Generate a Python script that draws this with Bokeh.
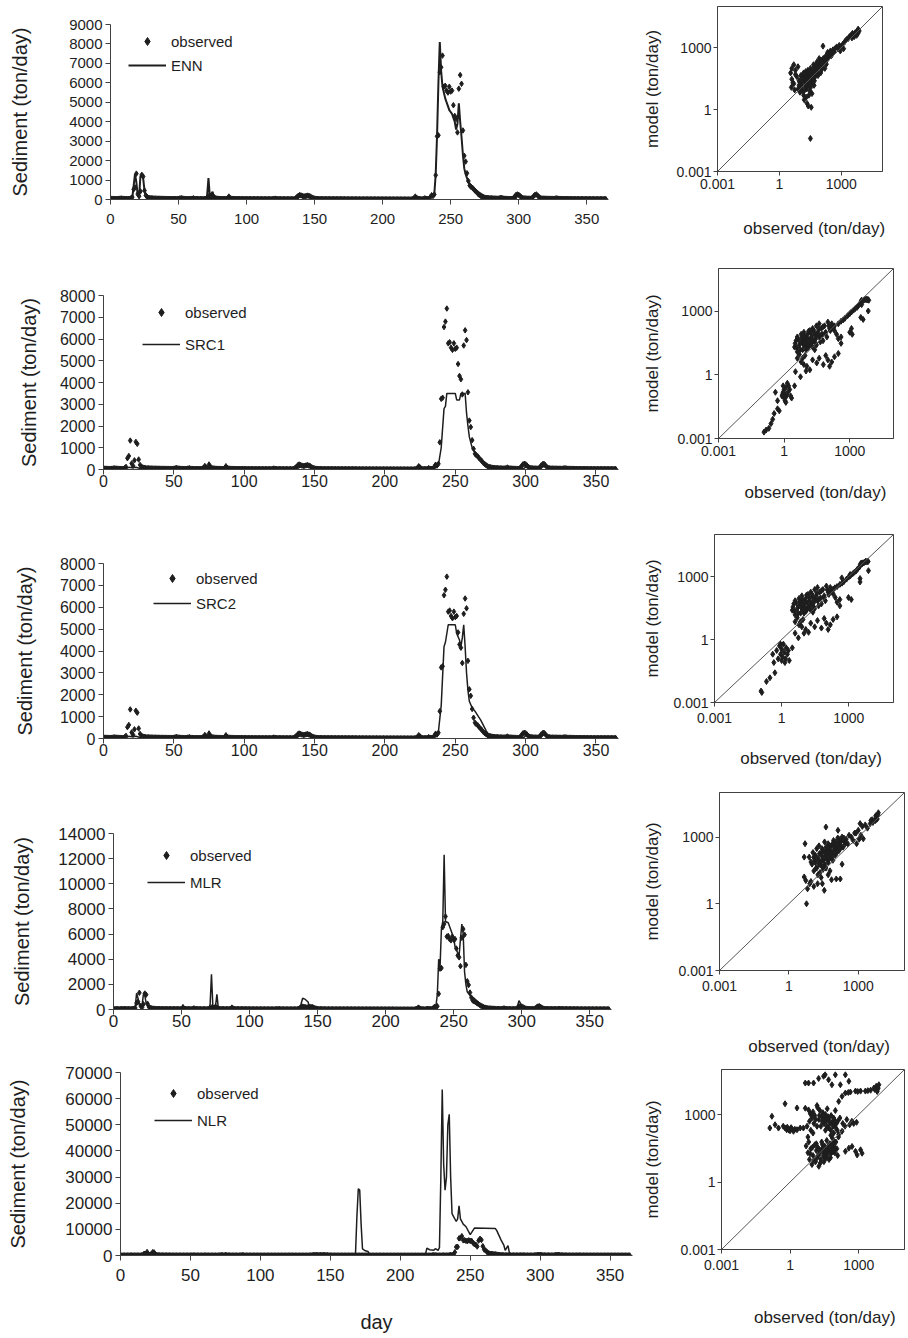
from bokeh.plotting import figure
from bokeh.layouts import row, column
from bokeh.models import (Range1d, FixedTicker, NumeralTickFormatter,
                          CustomJSTickFormatter, Legend, LegendItem, Slope)
from bokeh.embed import file_html
from bokeh.resources import INLINE

FONT = "Liberation Sans"
INK = "#1e1e1e"
AXIS = "#404040"

# ---- daily observed sediment load (ton/day), day 0..364 ----
days = list(range(365))
observed = [
    45, 42, 40, 38, 36, 35, 40, 48, 52, 45,
    40, 38, 36, 35, 34, 60, 120, 520, 620, 1330,
    280, 170, 420, 1270, 1180, 460, 210, 130, 90, 75,
    65, 60, 55, 52, 50, 48, 46, 45, 44, 42,
    41, 40, 40, 39, 38, 38, 37, 36, 36, 35,
    40, 55, 70, 50, 42, 38, 36, 35, 34, 33,
    45, 60, 40, 35, 33, 32, 31, 30, 30, 29,
    35, 80, 160, 90, 60, 230, 120, 70, 50, 45,
    40, 38, 37, 36, 35, 34, 60, 150, 70, 45,
    40, 38, 36, 35, 34, 33, 32, 31, 30, 30,
    29, 29, 28, 28, 27, 27, 26, 26, 25, 25,
    25, 24, 24, 24, 23, 23, 23, 22, 22, 22,
    30, 45, 35, 28, 25, 24, 23, 22, 22, 21,
    21, 21, 20, 20, 20, 25, 60, 120, 190, 230,
    210, 180, 160, 170, 190, 200, 180, 150, 100, 70,
    50, 40, 35, 32, 30, 28, 27, 26, 25, 25,
    24, 24, 23, 23, 22, 22, 22, 21, 21, 21,
    20, 20, 20, 19, 19, 19, 18, 18, 18, 18,
    17, 17, 17, 16, 16, 16, 15, 15, 15, 15,
    14, 14, 14, 13, 13, 13, 12, 12, 12, 12,
    11, 11, 11, 10, 10, 10, 10, 9, 9, 9,
    9, 8, 8, 8, 8, 7, 7, 7, 7, 6,
    6, 8, 20, 60, 150, 90, 40, 25, 20, 18,
    30, 60, 40, 30, 35, 120, 220, 180, 260, 1250,
    3250, 3300, 6550, 6800, 7400, 5800, 5850, 5600, 5500, 5800,
    5550, 5600, 4850, 4300, 4150, 3450, 5700, 6400, 5950, 3550,
    2250, 1950, 1350, 950, 720, 650, 600, 520, 450, 380,
    300, 240, 190, 150, 120, 100, 90, 80, 75, 70,
    65, 60, 55, 52, 50, 48, 60, 90, 60, 50,
    45, 42, 40, 38, 36, 35, 60, 150, 230, 260,
    240, 180, 120, 80, 60, 55, 50, 48, 46, 45,
    90, 180, 240, 260, 200, 120, 70, 55, 50, 48,
    46, 45, 44, 43, 42, 41, 40, 50, 60, 45,
    40, 39, 38, 37, 36, 35, 34, 33, 32, 31,
    30, 30, 29, 29, 28, 28, 27, 27, 26, 26,
    25, 25, 25, 24, 24, 24, 23, 23, 23, 22,
    22, 22, 21, 21, 21,
]

# ---- model lines (vertices) ----
enn_day = [0, 16, 17, 18, 19, 20, 21, 22, 23, 24, 25, 26, 28, 70, 71, 72, 73, 75, 76, 86,
           87, 88, 138, 139, 140, 142, 146, 149, 152, 222, 224, 226, 235, 236, 237, 238, 239, 240, 241, 242,
           243, 244, 245, 246, 247, 248, 249, 250, 251, 252, 253, 254, 255, 256, 257, 258, 259, 260, 261, 262,
           263, 264, 265, 266, 268, 270, 272, 274, 276, 280, 298, 299, 301, 303, 310, 312, 314, 316, 320, 364]
enn_val = [50, 60, 700, 1300, 900, 200, 150, 1200, 1250, 1100, 450, 150, 60, 50, 200, 1100, 150, 400, 100, 60,
           150, 60, 80, 200, 150, 180, 170, 80, 50, 50, 150, 60, 80, 200, 150, 300, 1300, 3300, 6000, 8100,
           6600, 5800, 5500, 5200, 5000, 4800, 4600, 4500, 4400, 4200, 4000, 3600, 3900, 4950, 4000, 3200, 2300, 1600, 1300, 1100,
           900, 800, 700, 600, 500, 400, 300, 200, 120, 70, 60, 250, 200, 80, 80, 200, 250, 100, 50, 40]

src1_day = [0, 16, 18, 20, 23, 26, 138, 141, 147, 150, 223, 225, 227, 236, 238, 240, 242, 243, 244, 250,
            251, 253, 254, 257, 258, 259, 260, 262, 264, 266, 268, 270, 272, 275, 280, 299, 301, 303, 311, 313,
            315, 364]
src1_val = [40, 40, 100, 80, 100, 50, 60, 150, 150, 60, 50, 100, 50, 80, 200, 1000, 2800, 2900, 3500, 3500,
            3200, 3200, 3500, 3500, 2600, 2000, 1500, 1000, 800, 650, 500, 350, 200, 80, 40, 60, 150, 60, 60, 150,
            60, 30]

src2_day = [0, 16, 18, 20, 23, 26, 138, 141, 147, 150, 223, 225, 227, 236, 238, 240, 242, 243, 245, 250,
            251, 253, 254, 255, 256, 257, 258, 259, 260, 262, 264, 266, 268, 270, 272, 274, 276, 299, 301, 303,
            311, 313, 315, 364]
src2_val = [40, 40, 100, 80, 100, 50, 60, 180, 180, 60, 50, 100, 50, 80, 300, 1500, 4200, 4400, 5200, 5200,
            4800, 4500, 4200, 4600, 5200, 4200, 3000, 2200, 1700, 1400, 1250, 1050, 850, 600, 350, 150, 60, 60, 180, 60,
            60, 180, 60, 30]

mlr_day = [0, 15, 16, 17, 18, 19, 20, 21, 22, 23, 24, 26, 50, 51, 52, 58, 59, 60, 70, 71,
           72, 73, 75, 76, 77, 86, 87, 88, 137, 138, 139, 141, 143, 144, 146, 148, 152, 224, 225, 226,
           236, 237, 238, 239, 240, 241, 242, 243, 244, 246, 248, 250, 251, 253, 254, 255, 256, 257, 258, 259,
           260, 262, 265, 268, 271, 274, 278, 296, 297, 298, 299, 300, 302, 310, 312, 314, 316, 364]
mlr_val = [50, 60, 300, 1300, 900, 400, 200, 350, 1200, 1100, 500, 100, 60, 400, 60, 60, 300, 60, 60, 400,
           2800, 300, 300, 1200, 150, 60, 300, 60, 80, 500, 900, 800, 600, 200, 350, 100, 50, 60, 200, 60,
           100, 300, 1200, 4000, 3400, 6400, 7000, 12300, 7000, 6900, 6300, 5700, 5000, 4500, 4300, 5600, 6800, 6000, 3000, 2000,
           1400, 1100, 900, 600, 300, 120, 60, 60, 300, 700, 500, 200, 80, 80, 250, 120, 60, 40]

nlr_day = [0, 15, 17, 19, 22, 24, 40, 140, 150, 167, 168, 169, 170, 171, 172, 173, 175, 177, 178, 218,
           219, 221, 224, 225, 227, 228, 229, 230, 231, 232, 233, 234, 235, 236, 237, 238, 240, 241, 242, 243,
           245, 247, 250, 253, 268, 269, 272, 274, 275, 277, 278, 280, 364]
nlr_val = [300, 300, 1500, 500, 1300, 400, 200, 300, 300, 300, 800, 15000, 25500, 25000, 12000, 2500, 1800, 1500, 300, 300,
           2800, 2200, 2000, 2600, 2000, 3000, 30000, 63500, 35000, 25000, 30000, 50000, 54000, 30000, 16000, 15000, 13000, 14000, 19000, 14000,
           12000, 11000, 8000, 10500, 10300, 9500, 6000, 4000, 2000, 3800, 1000, 300, 200]

# ---- scatter clouds: (observed, model) in ton/day ----
enn_scatter = [
    (3.5, 60), (4, 30), (4, 100), (5, 150), (5, 18), (6, 80), (7, 40), (3.8, 12), (5.5, 9), (8, 120),
    (8, 10), (10, 7), (10, 20), (12, 15), (12, 40), (14, 25), (15, 5), (15, 60), (16, 3), (18, 30),
    (18, 12), (20, 50), (20, 4), (22, 20), (22, 2), (24, 80), (25, 35), (25, 1.5), (28, 15), (28, 60),
    (30, 25), (30, 8), (32, 100), (35, 40), (35, 18), (38, 6), (40, 70), (40, 30), (45, 150), (45, 50),
    (50, 25), (50, 90), (55, 40), (60, 120), (60, 70), (65, 200), (70, 90), (75, 45), (80, 150), (85, 300),
    (90, 110), (100, 180), (100, 60), (110, 250), (120, 140), (130, 1200), (140, 220), (150, 300), (160, 100), (180, 400),
    (200, 250), (220, 600), (250, 350), (280, 500), (300, 700), (350, 450), (400, 800), (450, 650), (500, 900), (600, 1100),
    (700, 900), (800, 1300), (900, 700), (1000, 1200), (1200, 1500), (1300, 900), (1500, 2000), (1800, 2500), (2200, 2800), (2500, 3500),
    (3000, 4000), (3300, 3000), (3500, 5000), (4000, 4500), (4200, 3500), (4800, 5500), (5500, 5000), (5800, 6000), (6400, 4950), (6600, 8000),
    (7400, 6500), (5600, 4000), (4300, 3600), (32, 0.04), (9, 25), (11, 45), (13, 8), (17, 20), (19, 70), (21, 10),
    (26, 25), (27, 5), (33, 12), (42, 20), (48, 15), (6, 50), (4.5, 20), (35, 1.3),
    (9, 15), (11, 12), (13, 30), (14, 50), (16, 35), (17, 9), (19, 40), (21, 28), (23, 14), (24, 45),
    (26, 60), (29, 22), (31, 45), (34, 28), (36, 80), (39, 35), (43, 60), (47, 110), (52, 55), (58, 85),
    (62, 150), (68, 110), (72, 60), (78, 200), (95, 140), (105, 220), (115, 90), (125, 180), (135, 300), (170, 250),
    (190, 160), (240, 450), (320, 400), (380, 600),
]
src1_scatter = [
    (0.12, 0.002), (0.15, 0.0025), (0.2, 0.003), (0.25, 0.005), (0.3, 0.008), (0.35, 0.015), (0.5, 0.025), (0.6, 0.02), (0.4, 0.15), (0.5, 0.06),
    (0.8, 0.1), (0.9, 0.15), (1.0, 0.08), (1.0, 0.2), (1.1, 0.12), (1.2, 0.25), (1.3, 0.1), (1.5, 0.15), (1.6, 0.3), (1.8, 0.2),
    (2.0, 0.1), (2.2, 0.08), (1.2, 0.05), (0.9, 0.3), (1.4, 0.4), (1.1, 0.06), (0.85, 0.12), (3, 0.3), (3.3, 1.4), (5.6, 0.8),
    (11, 2.5), (15, 1.7), (31, 3.6), (62, 3), (8, 3), (10, 1.5), (20, 5), (40, 6), (80, 8), (100, 5),
    (150, 4), (200, 7), (300, 10), (120, 2.5), (3, 20), (3.5, 40), (4, 12), (4, 60), (5, 25), (5, 9),
    (6, 35), (6, 80), (7, 15), (7, 50), (8, 25), (8, 100), (9, 40), (10, 15), (10, 60), (11, 30),
    (12, 80), (13, 20), (14, 45), (15, 120), (16, 30), (18, 60), (20, 20), (20, 150), (22, 40), (25, 80),
    (25, 15), (28, 50), (30, 200), (30, 25), (35, 100), (40, 60), (40, 250), (45, 35), (50, 150), (55, 80),
    (60, 40), (70, 200), (80, 100), (90, 60), (100, 300), (120, 150), (150, 250), (200, 120), (250, 80), (300, 50),
    (400, 30), (400, 60), (150, 150), (200, 200), (300, 250), (400, 330), (500, 380), (600, 450), (800, 600), (1000, 750),
    (1200, 900), (1500, 1100), (1800, 1300), (2200, 1500), (2500, 1800), (3000, 2200), (3300, 2800), (4000, 3000), (4500, 3300), (5000, 3500),
    (5800, 3500), (6400, 3400), (6800, 3500), (7400, 3200), (5600, 3500), (3500, 2000), (1000, 100), (1200, 150), (3200, 500), (4100, 400),
    (7000, 1000), (4300, 3300), (3450, 3200), (1300, 80),
    (3.2, 30), (3.8, 18), (4.5, 45), (5.5, 15), (6.5, 55), (7.5, 30), (8.5, 70), (9.5, 22), (11, 50), (12, 18),
    (13, 110), (14, 25), (17, 90), (19, 35), (23, 120), (27, 30), (32, 75), (38, 140), (45, 70), (60, 180),
    (75, 90), (110, 200), (130, 120), (180, 160), (7, 6), (9, 8), (6, 4), (4, 6),
]
src2_scatter = [
    (0.12, 0.0035), (0.13, 0.003), (0.21, 0.01), (0.3, 0.015), (0.5, 0.026), (0.4, 0.2), (0.45, 0.08), (0.6, 0.3), (0.7, 0.12), (0.8, 0.5),
    (0.9, 0.2), (1.0, 0.1), (1.0, 0.35), (1.1, 0.15), (1.2, 0.6), (1.3, 0.25), (1.5, 0.12), (1.6, 0.4), (1.8, 0.2), (2.0, 0.3),
    (2.2, 0.1), (0.9, 0.6), (1.4, 0.08), (3, 0.4), (5.6, 1.2), (4, 2), (12, 3), (16, 2.2), (30, 4), (60, 3.5),
    (8, 4), (10, 2), (20, 6), (40, 8), (80, 10), (100, 6), (150, 5), (200, 9), (300, 12), (120, 3),
    (3, 25), (3.5, 50), (4, 15), (4, 70), (5, 30), (5, 11), (6, 40), (6, 90), (7, 18), (7, 60),
    (8, 30), (8, 120), (9, 45), (10, 18), (10, 70), (11, 35), (12, 90), (13, 25), (14, 55), (15, 140),
    (16, 35), (18, 70), (20, 25), (20, 180), (22, 50), (25, 95), (25, 20), (28, 60), (30, 240), (30, 30),
    (35, 120), (40, 70), (40, 300), (45, 40), (50, 180), (55, 95), (60, 50), (70, 240), (80, 120), (90, 70),
    (100, 350), (120, 180), (150, 300), (200, 150), (250, 100), (300, 60), (400, 40), (400, 80), (150, 200), (200, 250),
    (240, 290), (300, 330), (400, 420), (490, 860), (500, 480), (600, 560), (800, 750), (1000, 950), (1150, 1250), (1200, 1100),
    (1500, 1350), (1800, 1600), (2200, 1900), (2500, 2300), (3000, 2800), (3300, 3700), (3800, 4300), (4000, 4000), (4500, 4400), (5000, 4700),
    (5800, 5200), (6400, 5100), (6800, 5200), (7400, 5200), (5600, 5200), (7600, 1900), (3200, 800), (3200, 550), (970, 100), (1300, 80),
    (4300, 4500), (3450, 4200),
    (3.2, 35), (3.8, 22), (4.5, 55), (5.5, 18), (6.5, 65), (7.5, 35), (8.5, 80), (9.5, 26), (11, 60), (12, 22),
    (13, 130), (14, 30), (17, 100), (19, 40), (23, 140), (27, 35), (32, 90), (38, 160), (45, 80), (60, 210),
    (75, 100), (110, 230), (130, 140), (180, 190), (7, 7), (9, 9), (6, 5), (4, 7),
]
mlr_scatter = [
    (5, 500), (4.6, 125), (4.6, 16), (5.4, 11), (5.8, 1), (6.4, 4.7), (7.6, 125), (9, 75), (34, 4), (17.5, 8),
    (112, 13), (167, 13), (40, 2800), (133, 2000), (1200, 4000), (10, 60), (11, 200), (12, 30), (13, 90), (14, 150),
    (15, 40), (16, 300), (18, 20), (18, 110), (20, 60), (20, 400), (22, 25), (24, 180), (25, 80), (26, 50),
    (28, 130), (30, 35), (30, 250), (32, 90), (35, 600), (35, 60), (38, 150), (40, 40), (40, 350), (45, 100),
    (45, 200), (50, 70), (50, 500), (55, 150), (60, 250), (60, 30), (65, 120), (70, 400), (75, 180), (80, 90),
    (85, 700), (90, 250), (100, 150), (100, 400), (110, 300), (120, 200), (130, 900), (140, 500), (150, 250), (160, 600),
    (180, 350), (200, 1000), (220, 350), (250, 600), (300, 800), (350, 500), (400, 1200), (500, 1000), (600, 700), (700, 1500),
    (800, 1500), (850, 500), (1000, 2000), (1100, 800), (1300, 1200), (1500, 3000), (1650, 830), (2000, 3500), (2500, 2500), (3300, 4000),
    (3500, 5500), (4000, 6000), (4300, 4500), (5500, 6500), (5600, 5500), (5800, 7000), (6400, 7000), (6600, 6400), (7400, 12300), (5700, 9000),
    (6000, 8000), (7000, 10000), (25, 15), (28, 8), (50, 20), (70, 12), (9, 10), (12, 6), (8, 8), (200, 60),
    (12, 120), (14, 70), (16, 40), (19, 90), (21, 180), (23, 55), (27, 300), (29, 100), (33, 45), (36, 200),
    (42, 120), (48, 300), (52, 90), (58, 400), (66, 200), (72, 130), (78, 500), (95, 300), (105, 600), (125, 350),
    (145, 800), (170, 450), (190, 700), (240, 900), (280, 500),
]
nlr_scatter = [
    (0.13, 250), (0.16, 830), (0.22, 350), (0.31, 250), (0.6, 250), (0.71, 210), (0.85, 230), (1.0, 190), (1.2, 230), (1.4, 180),
    (2.0, 210), (2.75, 250), (3.8, 250), (0.6, 3000), (2, 1950), (0.9, 200), (1.1, 260), (0.75, 270), (1.6, 220), (0.5, 300),
    (4.6, 25000), (6.4, 25000), (10.6, 25000), (17.6, 40000), (29, 50000), (34, 58000), (48, 35000), (67, 21000), (95, 58000), (157, 21000),
    (260, 58000), (370, 30000), (133, 3800), (186, 6400), (260, 9000), (430, 10000), (720, 11000), (1200, 11000), (1950, 11000), (3300, 12000),
    (4600, 15000), (5800, 18000), (7000, 14000), (7600, 21000), (6400, 10500), (2500, 11500), (900, 10500), (350, 9500), (5000, 13000), (6800, 16000),
    (4.6, 1900), (6.4, 1600), (7.6, 1150), (9, 700), (10, 1300), (12, 900), (15, 2500), (18, 600), (20, 1500), (25, 800),
    (30, 400), (35, 1000), (40, 300), (50, 600), (60, 200), (70, 450), (80, 150), (90, 350), (100, 250), (120, 500),
    (133, 128), (186, 180), (150, 700), (200, 400), (250, 300), (300, 600), (400, 350), (500, 500), (600, 400), (800, 450),
    (5, 40), (6, 20), (7, 10), (8, 30), (9, 6), (10, 15), (12, 45), (13, 8), (14, 25), (15, 12),
    (16, 35), (18, 5), (20, 20), (22, 10), (24, 60), (25, 30), (28, 15), (30, 8), (32, 40), (35, 20),
    (38, 12), (40, 70), (45, 25), (50, 10), (55, 50), (60, 18), (65, 30), (70, 90), (80, 40), (90, 20),
    (100, 60), (110, 30), (120, 15), (130, 100), (510, 38), (720, 23), (1200, 27), (1400, 19), (850, 16), (260, 23),
    (370, 32), (6, 100), (8, 200), (10, 150), (15, 300), (25, 500), (35, 200), (45, 800), (60, 120), (80, 700),
    (5.5, 300), (7, 500), (8, 1000), (11, 400), (13, 600), (16, 2000), (19, 900), (22, 300), (27, 1200), (32, 700),
    (38, 500), (42, 1800), (48, 250), (55, 400), (62, 900), (75, 300), (85, 600), (95, 1500), (105, 400), (115, 200),
    (6.5, 60), (7.5, 18), (9.5, 35), (11, 9), (14, 50), (17, 15), (19, 28), (21, 7), (26, 45), (29, 22),
    (33, 11), (37, 30), (42, 16), (47, 40), (53, 25), (58, 12), (67, 45), (75, 22), (85, 60), (95, 30),
]

day_ticks = [0, 50, 100, 150, 200, 250, 300, 350]
log_ticks = [0.001, 1, 1000]

models = ["ENN", "SRC1", "SRC2", "MLR", "NLR"]
lines = [(enn_day, enn_val), (src1_day, src1_val), (src2_day, src2_val),
         (mlr_day, mlr_val), (nlr_day, nlr_val)]
clouds = [enn_scatter, src1_scatter, src2_scatter, mlr_scatter, nlr_scatter]
y_max = [9000, 8000, 8000, 14000, 70000]
y_step = [1000, 1000, 1000, 2000, 10000]

# layout of each row (pixels): left plot and scatter plot
row_h = [262, 260, 268, 268, 280]
ts_lay = [
    dict(bl=110, fw=498, bt=24, fh=175, xs=9, ys=35, fs=15, lx=18, ly=124, sp=4, lw=2.0),
    dict(bl=103, fw=515, bt=33, fh=174, xs=0, ys=17, fs=16, lx=39, ly=115, sp=12, lw=1.5),
    dict(bl=103, fw=515, bt=41, fh=175, xs=0, ys=21, fs=16, lx=50, ly=125, sp=5, lw=1.5),
    dict(bl=113, fw=498, bt=43, fh=176, xs=0, ys=22, fs=17, lx=34, ly=117, sp=7, lw=1.5),
    dict(bl=120, fw=512, bt=14, fh=183, xs=8, ys=33, fs=17, lx=34, ly=125, sp=7, lw=1.5),
]
# pad = no-break spaces that nudge the centred x caption to the right, as in the original
sc_lay = [
    dict(bl=73, fw=169, bt=6, fh=165, xs=3, ys=11, xls=27, pad=6),
    dict(bl=74, fw=179, bt=6, fh=170, xs=3, ys=12, xls=24, pad=4),
    dict(bl=72, fw=181, bt=12, fh=168, xs=6, ys=8, xls=23, pad=3),
    dict(bl=78, fw=186, bt=2, fh=178, xs=6, ys=13, xls=43, pad=3),
    dict(bl=77, fw=187, bt=11, fh=180, xs=6, ys=15, xls=35, pad=5),
]
LEFT_W = 640
RIGHT_W = 266


def style_axis(ax, size):
    ax.axis_line_color = AXIS
    ax.major_tick_line_color = AXIS
    ax.major_tick_out = 5
    ax.major_tick_in = 0
    ax.minor_tick_line_color = None
    ax.major_label_text_font = FONT
    ax.major_label_text_font_size = size
    ax.major_label_text_color = INK
    ax.axis_label_text_font = FONT
    ax.axis_label_text_font_style = "normal"
    ax.axis_label_text_color = INK


def series_plot(i):
    lay = ts_lay[i]
    h = row_h[i]
    p = figure(width=LEFT_W, height=h, x_range=Range1d(0, 366), y_range=Range1d(0, y_max[i]),
               min_border_left=lay["bl"], min_border_right=LEFT_W - lay["bl"] - lay["fw"],
               min_border_top=lay["bt"], min_border_bottom=h - lay["bt"] - lay["fh"],
               output_backend="svg", toolbar_location=None, title=None)
    p.outline_line_color = None
    p.grid.visible = False
    line_day, line_val = lines[i]
    r_line = p.line(line_day, line_val, line_color=INK, line_width=lay["lw"])
    r_obs = p.scatter(days, observed, marker="diamond", size=5.5, color=INK)

    p.xaxis.ticker = FixedTicker(ticks=day_ticks)
    p.yaxis.ticker = FixedTicker(ticks=list(range(0, y_max[i] + 1, y_step[i])))
    p.yaxis.formatter = NumeralTickFormatter(format="0")
    fs = "%dpx" % lay["fs"]
    style_axis(p.xaxis[0], fs)
    style_axis(p.yaxis[0], fs)
    p.xaxis.major_label_standoff = lay["xs"]
    p.yaxis.major_label_standoff = 3
    p.yaxis.axis_label = "Sediment (ton/day)"
    p.yaxis.axis_label_text_font_size = "20px"
    p.yaxis.axis_label_standoff = lay["ys"]
    if i == 4:
        p.xaxis.axis_label = "day"
        p.xaxis.axis_label_text_font_size = "20px"
        p.xaxis.axis_label_standoff = 27

    legend = Legend(items=[LegendItem(label="observed", renderers=[r_obs]),
                           LegendItem(label=models[i], renderers=[r_line])],
                    location=(lay["lx"], lay["ly"]), glyph_width=38, glyph_height=20,
                    label_height=20, spacing=lay["sp"], padding=0, margin=0,
                    label_standoff=5, border_line_color=None, background_fill_alpha=0,
                    label_text_font=FONT, label_text_font_size="15px",
                    label_text_color=INK)
    p.add_layout(legend)
    return p


def scatter_plot(i):
    lay = sc_lay[i]
    h = row_h[i]
    s = figure(width=RIGHT_W, height=h, x_axis_type="log", y_axis_type="log",
               x_range=Range1d(0.001, 1e5), y_range=Range1d(0.001, 1e5),
               min_border_left=lay["bl"], min_border_right=RIGHT_W - lay["bl"] - lay["fw"],
               min_border_top=lay["bt"], min_border_bottom=h - lay["bt"] - lay["fh"],
               output_backend="svg", toolbar_location=None, title=None)
    s.grid.visible = False
    s.outline_line_color = AXIS
    s.outline_line_width = 1
    obs = [a for a, b in clouds[i]]
    mod = [b for a, b in clouds[i]]
    s.scatter(obs, mod, marker="diamond", size=6, color=INK)
    s.add_layout(Slope(gradient=1, y_intercept=0, line_color="#555555", line_width=1))

    fmt = "return tick < 1 ? tick.toFixed(3) : tick.toFixed(0);"
    for ax in (s.xaxis[0], s.yaxis[0]):
        ax.ticker = FixedTicker(ticks=log_ticks, minor_ticks=[])
        ax.formatter = CustomJSTickFormatter(code=fmt)
        style_axis(ax, "14px")
        ax.major_tick_out = 4
    s.xaxis.major_label_standoff = lay["xs"]
    s.yaxis.major_label_standoff = 2
    s.yaxis.axis_label = "model (ton/day)"
    s.yaxis.axis_label_text_font_size = "17px"
    s.yaxis.axis_label_standoff = lay["ys"]
    s.xaxis.axis_label = "\u00a0" * lay["pad"] + "observed (ton/day)"
    s.xaxis.axis_label_text_font_size = "17px"
    s.xaxis.axis_label_standoff = lay["xls"]
    return s


# each plot sits in its own column so the row does not line up their frames
rows = [row(column(series_plot(i)), column(scatter_plot(i))) for i in range(5)]
layout = column(*rows)

open("out.html", "w").write(file_html(layout, INLINE, "Sediment models"))
